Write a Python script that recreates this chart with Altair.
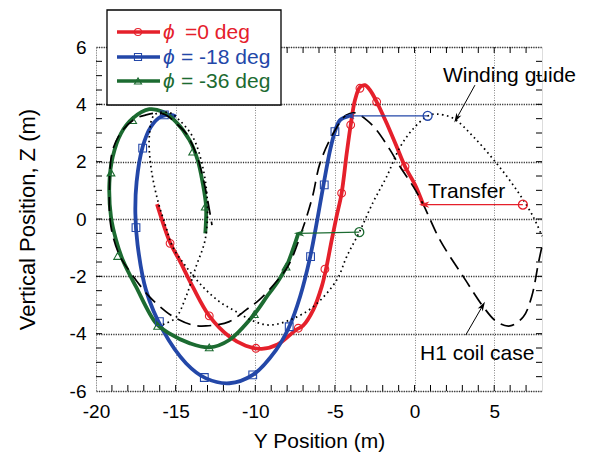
import altair as alt
import pandas as pd

# ---------------- data ----------------
series_names = ["phi0", "phi18", "phi36"]
series_colors = ["#e5202b", "#2347a8", "#1c6b31"]
legend_rest = ["=0 deg", "= -18 deg", "= -36 deg"]

# phi = 0 deg orbit
red_y = [-16.17, -15.35, -14.77, -13.93, -12.89, -11.63, -10.6, -9.6, -8.6, -7.45, -7.0, -6.36,
         -5.83, -5.56, -5.2, -4.9, -4.58, -4.26, -4.01, -3.74, -3.43, -3.11, -2.80, -2.38, -1.75,
         -1.12, -0.60, 0.03, 0.55]
red_z = [0.52, -0.82, -1.43, -2.36, -3.38, -4.10, -4.42, -4.53, -4.38, -3.87, -3.72, -3.17,
         -2.36, -1.75, -0.73, 0.08, 0.9, 2.29, 3.28, 4.15, 4.60, 4.67, 4.50, 4.09, 3.34,
         2.52, 1.83, 1.19, 0.49]

# phi = -18 deg orbit
blue_y = [-4.1, -4.68, -5.0, -5.3, -5.7, -6.1, -6.55, -7.19, -7.87, -8.70, -10.16, -11.63,
          -13.09, -14.35, -15.81, -16.86, -17.39, -17.53, -17.45, -17.07, -16.55, -15.92,
          -15.29, -14.98]
blue_z = [3.6, 3.45, 3.05, 2.41, 1.25, 0.0, -1.31, -2.71, -3.76, -4.57, -5.44, -5.73,
          -5.56, -5.03, -3.87, -2.48, -0.9, 0.2, 1.3, 2.52, 3.22, 3.57,
          3.63, 3.57]

# phi = -36 deg orbit
green_y = [-7.3, -7.6, -8.05, -8.6, -9.2, -10.1, -11.63, -12.89, -14.14, -15.40, -16.23,
           -17.49, -18.32, -18.74, -19.06, -19.16, -18.95, -18.43, -17.70, -16.65, -15.81,
           -14.98, -14.14, -13.62, -13.30, -13.09, -13.14]
green_z = [-0.5, -1.0, -1.66, -2.2, -2.65, -3.35, -4.22, -4.48, -4.33, -3.99, -3.64,
           -2.36, -1.43, -0.73, 0.08, 1.25, 2.17, 2.99, 3.51, 3.83, 3.74,
           3.39, 2.76, 2.06, 1.25, 0.43, -0.50]

# winding guide (dotted)
guide_y = [-15.8, -15.0, -14.35, -13.72, -13.15, -13.0, -13.3, -13.93, -14.77, -15.40, -16.34,
           -16.65, -16.55, -16.13, -15.61, -15.19, -14.35, -13.30, -12.26, -11.21, -10.16,
           -9.1, -7.82, -6.36, -4.89, -4.26, -3.47, -2.59, -1.75, -0.92, -0.08, 0.82, 1.38,
           2.43, 3.69, 5.15, 6.41, 7.45, 8.0]
guide_z = [-3.68, -3.45, -2.71, -1.66, -0.73, 0.5, 1.82, 2.87, 3.45, 3.71, 3.63,
           2.9, 1.82, 0.66, -0.27, -0.97, -1.66, -2.36, -2.88, -3.23, -3.55,
           -3.7, -3.52, -3.06, -2.13, -1.31, -0.46, 0.6, 1.48, 2.5, 3.15, 3.59, 3.66,
           3.51, 2.87, 1.94, 1.01, 0.08, -0.6]

# H1 coil case (dashed)
coil_y = [7.98, 7.77, 7.35, 6.83, 5.99, 5.15, 4.31, 3.06, 1.59, 0.55, -0.08, -0.92, -1.54,
          -2.38, -3.0, -3.7, -4.3, -5.1, -5.94, -6.4, -7.0, -7.9, -8.70, -9.75, -10.58,
          -11.63, -13.09, -13.93, -14.98, -15.61, -16.65, -17.80, -18.53, -19.06, -19.16,
          -18.95, -18.32, -17.49, -16.86, -16.23, -15.61, -14.98, -14.35, -13.72, -13.30,
          -12.99, -12.72]
coil_z = [-1.0, -1.55, -2.71, -3.41, -3.73, -3.58, -3.06, -2.01, -0.73, 0.5, 1.13, 1.83, 2.41,
          3.1, 3.45, 3.7, 3.62, 2.99, 1.94, 0.8, -0.3, -1.6, -2.2, -2.82, -3.17,
          -3.58, -3.73, -3.70, -3.46, -3.23, -2.71, -1.89, -1.26, -0.27, 1.0,
          2.41, 3.10, 3.51, 3.63, 3.69, 3.63, 3.34, 2.99, 2.29, 1.48,
          0.66, -0.21]

# markers on the orbits
red_mk_y = [-15.35, -12.89, -9.96, -7.30, -5.63, -4.58, -4.01, -3.43, -2.38, -0.60]
red_mk_z = [-0.85, -3.38, -4.51, -3.81, -1.75, 0.90, 3.28, 4.56, 4.09, 1.83]
blue_mk_y = [-5.0, -5.67, -6.53, -7.87, -10.16, -13.20, -16.02, -17.49, -17.07, -15.71]
blue_mk_z = [3.05, 1.19, -1.31, -3.76, -5.44, -5.53, -3.58, -0.30, 2.47, 3.63]
green_mk_y = [-8.07, -10.06, -12.89, -16.13, -18.64, -19.06, -17.70, -13.93, -13.14]
green_mk_z = [-1.66, -3.32, -4.48, -3.73, -1.29, 1.62, 3.45, 2.35, 0.43]

# transfer arrows: start (circle) -> end (arrow head)
arrow_y0 = [6.8, 0.82, -3.47]
arrow_z0 = [0.5, 3.6, -0.46]
arrow_y1 = [0.6, -4.1, -7.25]
arrow_z1 = [0.5, 3.6, -0.5]

# annotations
note_text = ["Winding guide", "Transfer", "H1 coil case"]
note_y = [1.78, 0.84, 0.34]
note_z = [4.78, 0.73, -4.92]
pointer_y0 = [3.79, 3.21]
pointer_z0 = [4.67, -4.05]
pointer_y1 = [2.64, 4.27]
pointer_z1 = [3.51, -3.03]
pointer_angle = [299, 120]

# ticks
x_ticks = list(range(-19, 8))
y_ticks = [v / 2 for v in range(-11, 12)]

# ---------------- chart ----------------
W, H = 446, 344
FONT = "Liberation Sans"
HYPHEN_LABEL = "datum.value < 0 ? '-' + abs(datum.value) : '' + datum.value"
xs = alt.Scale(domain=[-20, 8], nice=False, zero=False)
ys = alt.Scale(domain=[-6, 6], nice=False, zero=False)
x_axis = alt.Axis(values=[-20, -15, -10, -5, 0, 5], ticks=False, domain=False, grid=True,
                  gridColor="#7a7a7a", gridDash=[1, 1.5], gridWidth=0.9, labelFlush=False,
                  labelExpr=HYPHEN_LABEL,
                  labelFontSize=19, labelFont=FONT, labelColor="black", labelPadding=11,
                  title="Y Position (m)", titleFontSize=21, titleFont=FONT,
                  titleFontWeight="normal", titleColor="black", titlePadding=9)
y_axis = alt.Axis(values=[-6, -4, -2, 0, 2, 4, 6], ticks=False, domain=False, grid=True,
                  gridColor="#333333", gridDash=[1.2, 1.2], gridWidth=1.6, labelFlush=False,
                  labelExpr=HYPHEN_LABEL,
                  labelFontSize=19, labelFont=FONT, labelColor="black", labelPadding=10,
                  title="Vertical Position, Z (m)", titleFontSize=22, titleFont=FONT,
                  titleFontWeight="normal", titleColor="black", titlePadding=30)
X = alt.X("Y:Q", scale=xs, axis=x_axis)
Yc = alt.Y("Z:Q", scale=ys, axis=y_axis)


def path(name, yy, zz):
    return pd.DataFrame({"Y": yy, "Z": zz, "s": name, "i": list(range(len(yy)))})


color_scale = alt.Scale(domain=series_names, range=series_colors)
shape_scale = alt.Scale(domain=series_names, range=["circle", "square", "triangle-up"])

orbits = pd.concat([path("phi0", red_y, red_z), path("phi18", blue_y, blue_z),
                    path("phi36", green_y, green_z)])
markers = pd.concat([path("phi0", red_mk_y, red_mk_z), path("phi18", blue_mk_y, blue_mk_z),
                     path("phi36", green_mk_y, green_mk_z)])
arrows = pd.DataFrame({"Y": arrow_y0, "Z": arrow_z0, "Y2": arrow_y1, "Z2": arrow_z1,
                       "s": series_names})
notes = pd.DataFrame({"Y": note_y, "Z": note_z, "t": note_text})
pointers = pd.DataFrame({"Y": pointer_y0, "Z": pointer_z0, "Y2": pointer_y1,
                         "Z2": pointer_z1, "a": pointer_angle})

base_grid = alt.Chart(pd.DataFrame({"Y": [0], "Z": [0]})).mark_point(opacity=0).encode(x=X, y=Yc)

orbit_lines = alt.Chart(orbits).mark_line(strokeWidth=3.8, interpolate="catmull-rom").encode(
    x=X, y=Yc, color=alt.Color("s:N", scale=color_scale, legend=None),
    detail="s:N", order="i:Q")

orbit_marks = alt.Chart(markers).mark_point(filled=False, strokeWidth=1.1, size=60, opacity=1).encode(
    x=X, y=Yc, color=alt.Color("s:N", scale=color_scale, legend=None),
    shape=alt.Shape("s:N", scale=shape_scale, legend=None))

guide_line = alt.Chart(path("guide", guide_y, guide_z)).mark_line(
    color="black", strokeWidth=1.7, strokeDash=[1.6, 3.4], interpolate="catmull-rom").encode(
    x=X, y=Yc, order="i:Q")

coil_line = alt.Chart(path("coil", coil_y, coil_z)).mark_line(
    color="black", strokeWidth=1.7, strokeDash=[14, 7], interpolate="catmull-rom").encode(
    x=X, y=Yc, order="i:Q")

arrow_lines = alt.Chart(arrows).mark_rule(strokeWidth=1.3).encode(
    x=X, x2="Y2:Q", y=Yc, y2="Z2:Q",
    color=alt.Color("s:N", scale=color_scale, legend=None))
arrow_tails = alt.Chart(arrows).mark_point(shape="circle", filled=False, size=80, strokeWidth=1.3,
                                           opacity=1).encode(
    x=X, y=Yc, color=alt.Color("s:N", scale=color_scale, legend=None))
HEAD = "M -1 0 L 1 -0.6 L 0.45 0 L 1 0.6 Z"
arrow_heads = alt.Chart(arrows).mark_point(shape=HEAD, filled=True, size=110, opacity=1,
                                           strokeWidth=0).encode(
    x=alt.X("Y2:Q", scale=xs, axis=x_axis), y=alt.Y("Z2:Q", scale=ys, axis=y_axis),
    color=alt.Color("s:N", scale=color_scale, legend=None))

pointer_lines = alt.Chart(pointers).mark_rule(strokeWidth=1, color="black").encode(
    x=X, x2="Y2:Q", y=Yc, y2="Z2:Q")
pointer_heads = alt.Chart(pointers).mark_point(shape=HEAD, filled=True, size=90, opacity=1,
                                               color="black", strokeWidth=0).encode(
    x=alt.X("Y2:Q", scale=xs, axis=x_axis), y=alt.Y("Z2:Q", scale=ys, axis=y_axis),
    angle=alt.Angle("a:Q", scale=None))

note_marks = alt.Chart(notes).mark_text(align="left", baseline="alphabetic", fontSize=21,
                                        font=FONT, color="black").encode(
    x=X, y=Yc, text="t:N")

# inward ticks on all four sides
xt = pd.DataFrame({"Y": x_ticks})
yt = pd.DataFrame({"Z": y_ticks})
tick_style = dict(color="black", strokeWidth=1)
ticks_bottom = alt.Chart(xt).mark_rule(**tick_style).encode(x=X, y=alt.value(H), y2=alt.value(H - 6))
ticks_top = alt.Chart(xt).mark_rule(**tick_style).encode(x=X, y=alt.value(0), y2=alt.value(6))
ticks_left = alt.Chart(yt).mark_rule(**tick_style).encode(y=Yc, x=alt.value(0), x2=alt.value(6))
ticks_right = alt.Chart(yt).mark_rule(**tick_style).encode(y=Yc, x=alt.value(W), x2=alt.value(W - 6))

# legend box (drawn by hand, sits across the top border)
one = pd.DataFrame({"k": [0]})
legend_layers = [
    alt.Chart(one).mark_rect(fill="white", stroke="black", strokeWidth=1.3).encode(
        x=alt.value(11), x2=alt.value(185), y=alt.value(-37), y2=alt.value(58))
]
row_y = [-15, 10, 34]
rest_x = [89, 85, 85]
legend_shapes = ["circle", "square", "triangle-up"]
for k in range(3):
    c = series_colors[k]
    legend_layers.append(alt.Chart(one).mark_rule(color=c, strokeWidth=3.6).encode(
        x=alt.value(21), x2=alt.value(64), y=alt.value(row_y[k])))
    legend_layers.append(alt.Chart(one).mark_point(shape=legend_shapes[k], filled=False, size=50,
                                                   color=c, strokeWidth=1.1, opacity=1).encode(
        x=alt.value(42), y=alt.value(row_y[k])))
    legend_layers.append(alt.Chart(pd.DataFrame({"t": ["ϕ"]})).mark_text(
        align="left", baseline="middle", fontSize=21, font=FONT, fontStyle="italic", color=c).encode(
        x=alt.value(67), y=alt.value(row_y[k] + 1), text="t:N"))
    legend_layers.append(alt.Chart(pd.DataFrame({"t": [legend_rest[k]]})).mark_text(
        align="left", baseline="middle", fontSize=21, font=FONT, color=c).encode(
        x=alt.value(rest_x[k]), y=alt.value(row_y[k] + 1), text="t:N"))

chart = alt.layer(
    base_grid, orbit_lines, orbit_marks, guide_line, coil_line,
    arrow_lines, arrow_tails, arrow_heads, pointer_lines, pointer_heads, note_marks,
    ticks_bottom, ticks_top, ticks_left, ticks_right, *legend_layers
).properties(
    width=W, height=H,
    autosize=alt.AutoSizeParams(type="none"),
    padding={"left": 88, "top": 39, "right": 41, "bottom": 62},
).configure_view(stroke="black", strokeWidth=1.5).configure(background="white")

chart.save("out.html", embed_options={"renderer": "svg", "actions": False})
